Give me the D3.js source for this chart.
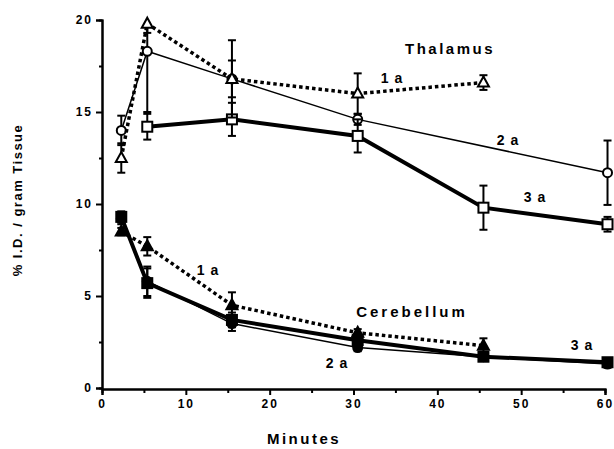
<!DOCTYPE html>
<html>
<head>
<meta charset="utf-8">
<script src="https://cdn.jsdelivr.net/npm/d3@7"></script>
<style>
  body { margin: 0; background: #fff; }
  text { font-family: "Liberation Sans", Arial, sans-serif; font-weight: bold; fill: #000; }
</style>
</head>
<body>
<div id="chart"></div>
<script>
// sampling times (minutes)
const thal1aMin = [2.3, 5.4, 15.5, 30.5, 45.5];
const thal1aVal = [12.5, 19.8, 16.8, 16.0, 16.6];
const thal1aErr = [0.8, 0.5, 2.1, 1.1, 0.4];

const thal2aMin = [2.3, 5.4, 15.5, 30.5, 60.3];
const thal2aVal = [14.0, 18.3, 16.8, 14.6, 11.7];
const thal2aErr = [0.8, 3.3, 1.0, 0.3, 1.75];

const thal3aMin = [5.4, 15.5, 30.5, 45.5, 60.3];
const thal3aVal = [14.2, 14.6, 13.7, 9.8, 8.9];
const thal3aErr = [0.7, 0.9, 0.9, 1.2, 0.4];

const cer1aMin = [2.3, 5.4, 15.5, 30.5, 45.5];
const cer1aVal = [8.5, 7.7, 4.5, 3.0, 2.3];
const cer1aErr = [0.2, 0.5, 0.7, 0.2, 0.4];

const cer2aMin = [2.3, 5.4, 15.5, 30.5, 45.5, 60.3];
const cer2aVal = [9.2, 5.8, 3.5, 2.2, 1.7, 1.3];
const cer2aErr = [0.3, 0.8, 0.4, 0.2, 0.1, 0.2];

const cer3aMin = [2.3, 5.4, 15.5, 30.5, 45.5, 60.3];
const cer3aVal = [9.3, 5.7, 3.7, 2.6, 1.7, 1.4];
const cer3aErr = [0.3, 0.8, 0.4, 0.3, 0.1, 0.2];

const xTicks = [0, 10, 20, 30, 40, 50, 60];
const yTicks = [0, 5, 10, 15, 20];

const W = 614, H = 449;
const svg = d3.select("#chart").append("svg")
    .attr("width", W).attr("height", H);

const x = d3.scaleLinear().domain([0, 60]).range([102, 605]);
const y = d3.scaleLinear().domain([0, 20]).range([388, 20]).clamp(true);

// axes
let yaxis = svg.append("g").attr("transform", "translate(102,0)");
yaxis.call(d3.axisLeft(y).tickValues(yTicks).tickSize(6).tickPadding(3));
yaxis.append("g").call(d3.axisLeft(y).tickValues([2.5, 7.5, 12.5, 17.5]).tickSize(3).tickFormat(""));

let xaxis = svg.append("g").attr("transform", "translate(0,389)");
xaxis.call(d3.axisBottom(x).tickValues(xTicks).tickSize(6).tickPadding(4));
xaxis.append("g").call(d3.axisBottom(x).tickValues([5, 15, 25, 35, 45, 55]).tickSize(4).tickFormat(""));

svg.selectAll(".domain").attr("stroke", "#000").attr("stroke-width", 2);
svg.selectAll(".tick line").attr("stroke", "#000").attr("stroke-width", 2);
svg.selectAll(".tick text").style("font-size", "12px").style("letter-spacing", "2px")
    .style("font-family", "'Liberation Sans', Arial, sans-serif").style("font-weight", "bold");

function series(mins, vals, errs) {
    return mins.map((m, i) => ({m: m, v: vals[i], e: errs[i]}));
}

const line = d3.line().x(d => x(d.m)).y(d => y(d.v));

function drawSeries(data, style) {
    let g = svg.append("g");
    // error bars
    data.forEach(d => {
        let y1 = y(d.v + d.e), y2 = y(d.v - d.e);
        g.append("line").attr("x1", x(d.m)).attr("x2", x(d.m))
            .attr("y1", y1).attr("y2", y2).attr("stroke", "#000").attr("stroke-width", 2);
        [y1, y2].forEach(yy => {
            if (d.v + d.e > 20 && yy === y1) return;
            g.append("line").attr("x1", x(d.m) - 4).attr("x2", x(d.m) + 4)
                .attr("y1", yy).attr("y2", yy).attr("stroke", "#000").attr("stroke-width", 2);
        });
    });
    g.append("path").datum(data).attr("d", line)
        .attr("fill", "none").attr("stroke", "#000")
        .attr("stroke-width", style.width)
        .attr("stroke-dasharray", style.dash || null);
    let fill = style.filled ? "#000" : "#fff";
    data.forEach(d => {
        let cx = x(d.m), cy = y(d.v);
        if (style.shape === "circle") {
            g.append("circle").attr("cx", cx).attr("cy", cy).attr("r", 4.5)
                .attr("fill", fill).attr("stroke", "#000").attr("stroke-width", 2);
        } else if (style.shape === "square") {
            g.append("rect").attr("x", cx - 5).attr("y", cy - 5).attr("width", 10).attr("height", 10)
                .attr("fill", fill).attr("stroke", "#000").attr("stroke-width", 2);
        } else {
            g.append("path").attr("d", `M${cx},${cy - 6}L${cx + 5.5},${cy + 4}L${cx - 5.5},${cy + 4}Z`)
                .attr("fill", fill).attr("stroke", "#000").attr("stroke-width", 2);
        }
    });
}

drawSeries(series(thal2aMin, thal2aVal, thal2aErr), {width: 1.5, shape: "circle"});
drawSeries(series(thal3aMin, thal3aVal, thal3aErr), {width: 4, shape: "square"});
drawSeries(series(thal1aMin, thal1aVal, thal1aErr), {width: 3.5, dash: "3.5,3", shape: "triangle"});

drawSeries(series(cer2aMin, cer2aVal, cer2aErr), {width: 1.5, shape: "circle", filled: true});
drawSeries(series(cer3aMin, cer3aVal, cer3aErr), {width: 4, shape: "square", filled: true});
drawSeries(series(cer1aMin, cer1aVal, cer1aErr), {width: 3.5, dash: "3.5,3", shape: "triangle", filled: true});

// annotations
function label(txt, px, py, size, sp) {
    svg.append("text").attr("x", px).attr("y", py).attr("text-anchor", "middle")
        .style("font-size", size + "px").style("letter-spacing", sp + "px").text(txt);
}
label("Thalamus", 450, 54, 15, 2.5);
label("1 a", 392, 83, 14, 1);
label("2 a", 508, 145, 14, 1);
label("3 a", 535, 202, 14, 1);
label("Cerebellum", 412, 317, 15, 3);
label("1 a", 208, 275, 14, 1);
label("2 a", 337, 368, 14, 1);
label("3 a", 582, 350, 14, 1);

label("Minutes", 304, 444, 15, 2.5);
svg.append("text").attr("transform", "translate(22,200) rotate(-90)")
    .attr("text-anchor", "middle").style("font-size", "13px").style("letter-spacing", "1.5px")
    .text("% I.D.  /  gram  Tissue");
</script>
</body>
</html>
